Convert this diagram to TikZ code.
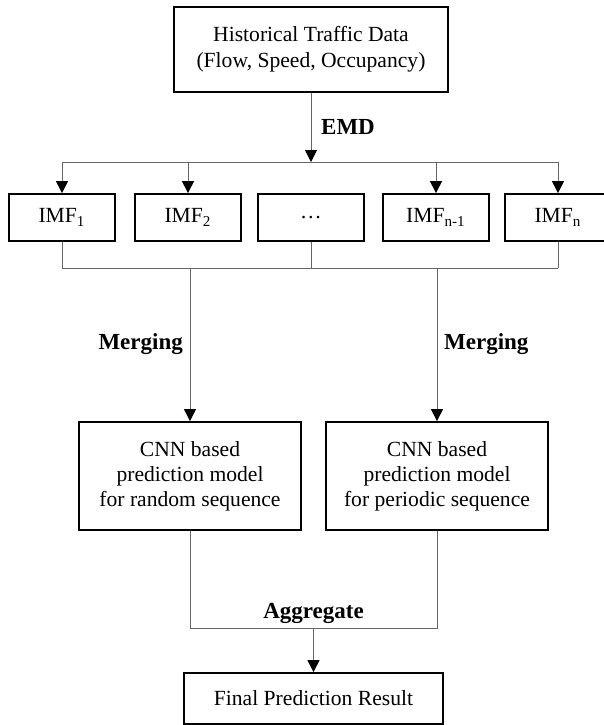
\documentclass[tikz,border=0pt]{standalone}
\usepackage{fontspec}
\setmainfont{Liberation Serif}
\usetikzlibrary{positioning, arrows.meta}

\begin{document}
\begin{tikzpicture}[x=0.5pt, y=-0.5pt]
        % Define styles for shapes
        \tikzstyle{databox} = [draw, line width=0.9pt, minimum width=137pt, minimum height=42.5pt, align=center, font=\fontsize{10.8}{13}\selectfont]
        \tikzstyle{imfbox} = [draw, line width=0.9pt, minimum width=53pt, minimum height=23.5pt, font=\fontsize{10.8}{13}\selectfont]
        \tikzstyle{modelbox} = [draw, line width=0.9pt, minimum width=111pt, minimum height=54pt, align=center, font=\fontsize{10.8}{12.5}\selectfont]
        \tikzstyle{resultbox} = [draw, line width=0.9pt, minimum width=129.5pt, minimum height=25.5pt, font=\fontsize{10.8}{13}\selectfont]
        \tikzstyle{link} = [draw=black!60, line width=0.5pt]
        \tikzstyle{arrow} = [link, -{Triangle[width=6pt, length=6pt, black]}]
        \tikzstyle{steplabel} = [font=\bfseries\fontsize{11.5}{13}\selectfont]

        \useasboundingbox (0,0) rectangle (604,725);

        % Draw shapes
        \node[databox] (data) at (311, 49.5) {Historical Traffic Data\\(Flow, Speed, Occupancy)};
        \node[imfbox] (imf1) at (62, 217.5) {IMF\textsubscript{1}};
        \node[imfbox] (imf2) at (188, 217.5) {IMF\textsubscript{2}};
        \node[imfbox] (imf3) at (311, 217.5) {\dots};
        \node[imfbox] (imf4) at (436, 217.5) {IMF\textsubscript{n-1}};
        \node[imfbox] (imf5) at (558, 217.5) {IMF\textsubscript{n}};
        \node[modelbox] (random) at (190, 476) {CNN based\\prediction model\\for random sequence};
        \node[modelbox] (periodic) at (437, 476) {CNN based\\prediction model\\for periodic sequence};
        \node[resultbox] (result) at (313.5, 698.5) {Final Prediction Result};

        % Bus points
        \coordinate (split) at (311, 162);
        \coordinate (merge) at (311, 268);
        \coordinate (join) at (313, 628);

        % Draw arrows
        \draw[arrow] (data.south) -- node[steplabel, right=1.5pt, pos=0.49] {EMD} (split);
        \draw[link] (split -| imf1) -- (split -| imf5);
        \foreach \i in {1,2,4,5}
                \draw[arrow] (split -| imf\i) -- (imf\i.north);
        \foreach \i in {1,3,5}
                \draw[link] (imf\i.south) -- (merge -| imf\i);
        \draw[link] (merge -| imf1) -- (merge -| imf5);
        \draw[arrow] (merge -| random) -- node[steplabel, left, midway] {Merging} (random.north);
        \draw[arrow] (merge -| periodic) -- node[steplabel, right, midway] {Merging} (periodic.north);
        \draw[link] (random.south) -- (join -| random) -- node[steplabel, above=-1.2pt] {Aggregate} (join -| periodic) -- (periodic.south);
        \draw[arrow] (join -| result) -- (result.north);
\end{tikzpicture}
\end{document}
